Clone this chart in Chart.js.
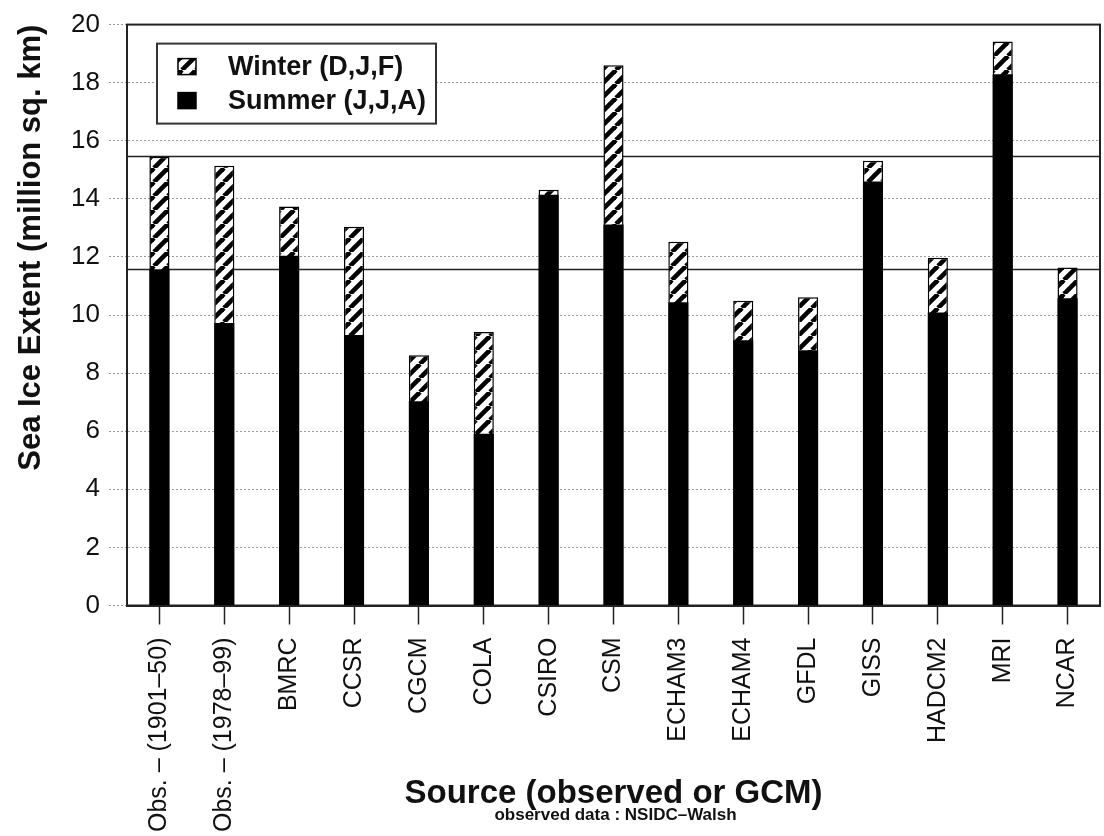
<!DOCTYPE html>
<html>
<head>
<meta charset="utf-8">
<script src="https://cdn.jsdelivr.net/npm/chart.js@4/dist/chart.umd.min.js"></script>
<style>
  html, body { margin: 0; padding: 0; background: #fff; }
  #wrap { width: 1104px; height: 836px; position: relative; }
</style>
</head>
<body>
<div id="wrap"><canvas id="chart"></canvas></div>
<script>
// categories along the x axis
const sources = [
  'Obs. \u2013 (1901\u201350)', 'Obs. \u2013 (1978\u201399)', 'BMRC', 'CCSR', 'CGCM', 'COLA',
  'CSIRO', 'CSM', 'ECHAM3', 'ECHAM4', 'GFDL', 'GISS', 'HADCM2', 'MRI', 'NCAR'
];
// sea ice extent, million sq. km
const winterExtent = [15.45, 15.14, 13.74, 13.04, 8.62, 9.42, 14.31, 18.6, 12.52, 10.49, 10.61, 15.31, 11.97, 19.42, 11.64];
const summerExtent = [11.58, 9.73, 12.04, 9.31, 7.03, 5.91, 14.14, 13.12, 10.44, 9.13, 8.79, 14.6, 10.09, 18.29, 10.58];
// observed 1901-50 levels drawn across the plot
const observedRefLines = [15.47, 11.57];
const sourceNote = 'observed data : NSIDC\u2013Walsh';

const FONT = '"Liberation Sans", Arial, Helvetica, sans-serif';

// diagonal "/" hatch used for the winter bars
function makeHatch() {
  const s = 14;
  const c = document.createElement('canvas');
  c.width = s; c.height = s;
  const g = c.getContext('2d');
  g.fillStyle = '#fff';
  g.fillRect(0, 0, s, s);
  g.strokeStyle = '#000';
  g.lineWidth = 4.6;
  for (let k = -1; k <= 1; k++) {
    g.beginPath();
    g.moveTo(k * s, s);
    g.lineTo(k * s + s, 0);
    g.stroke();
  }
  return g.createPattern(c, 'repeat');
}
const hatch = makeHatch();

// reference lines + frame around the plot
const framePlugin = {
  id: 'frame',
  beforeDatasetsDraw(chart) {
    const { ctx, chartArea: a, scales: { y } } = chart;
    ctx.save();
    ctx.strokeStyle = '#222';
    ctx.lineWidth = 1.6;
    observedRefLines.forEach(v => {
      const py = Math.round(y.getPixelForValue(v)) + 0.5;
      ctx.beginPath();
      ctx.moveTo(a.left, py);
      ctx.lineTo(a.right, py);
      ctx.stroke();
    });
    ctx.lineWidth = 2;
    ctx.strokeRect(a.left, a.top, a.right - a.left, a.bottom - a.top);
    ctx.restore();
  }
};

// boxed legend inside the plot, upper left, plus the small source note
const legendBoxPlugin = {
  id: 'legendBox',
  afterDraw(chart) {
    const { ctx, chartArea: a } = chart;
    const x0 = a.left + 30, y0 = a.top + 19, w = 279, h = 80;
    ctx.save();
    ctx.fillStyle = '#fff';
    ctx.fillRect(x0, y0, w, h);
    ctx.strokeStyle = '#333';
    ctx.lineWidth = 2;
    ctx.strokeRect(x0, y0, w, h);
    ctx.font = 'bold 27px ' + FONT;
    ctx.textBaseline = 'middle';
    chart.data.datasets.forEach((ds, i) => {
      const cy = y0 + 23 + i * 34;
      ctx.fillStyle = ds.backgroundColor;
      ctx.fillRect(x0 + 21, cy - 8, 18, 16);
      ctx.lineWidth = 1.5;
      ctx.strokeStyle = '#000';
      ctx.strokeRect(x0 + 21, cy - 8, 18, 16);
      ctx.fillStyle = '#111';
      ctx.fillText(ds.label, x0 + 71, cy + 1);
    });

    ctx.font = 'bold 17px ' + FONT;
    ctx.textAlign = 'center';
    ctx.fillStyle = '#111';
    ctx.fillText(sourceNote, (a.left + a.right) / 2 + 2, 815);
    ctx.restore();
  }
};

new Chart(document.getElementById('chart'), {
  type: 'bar',
  data: {
    labels: sources,
    datasets: [
      {
        label: 'Winter (D,J,F)',
        data: winterExtent,
        backgroundColor: hatch,
        borderColor: '#000',
        borderWidth: 1.5,
        borderSkipped: false,
        grouped: false,
        order: 1
      },
      {
        label: 'Summer (J,J,A)',
        data: summerExtent,
        backgroundColor: '#000',
        borderColor: '#000',
        borderWidth: 0,
        grouped: false,
        order: 0
      }
    ]
  },
  options: {
    responsive: true,
    maintainAspectRatio: false,
    animation: false,
    layout: { padding: { top: 20, right: 4, bottom: 0, left: 0 } },
    datasets: { bar: { categoryPercentage: 1, barPercentage: 0.31 } },
    plugins: {
      legend: { display: false },
      tooltip: { enabled: false }
    },
    scales: {
      x: {
        afterFit: s => {
          s.height = 230.5;
          s.paddingLeft = 0;
          s.paddingRight = 0;
        },
        grid: {
          display: true, drawOnChartArea: false, drawTicks: true, offset: false,
          tickLength: 19, tickColor: '#222', tickWidth: 1.5
        },
        border: { display: true, color: '#222', width: 2 },
        ticks: {
          autoSkip: false, maxRotation: 90, minRotation: 90, padding: 13,
          color: '#111', font: { family: FONT, size: 25 }
        },
        title: {
          display: true,
          text: 'Source (observed or GCM)',
          color: '#111',
          font: { family: FONT, size: 33, weight: 'bold', lineHeight: 1 },
          padding: { top: 0, bottom: 26 }
        }
      },
      y: {
        min: 0, max: 20,
        afterFit: s => { s.width = 127; },
        grid: {
          color: '#9a9a9a', lineWidth: 1, tickLength: 18,
          tickColor: '#9a9a9a', tickBorderDash: [2, 2]
        },
        border: { display: true, color: '#222', width: 2, dash: [2, 2] },
        ticks: {
          stepSize: 1, padding: 9, color: '#111',
          font: { family: FONT, size: 26 },
          callback: v => (v % 2 === 0 ? v : '')
        },
        title: {
          display: true,
          align: 'end',
          text: 'Sea Ice Extent (million sq. km)',
          color: '#111',
          font: { family: FONT, size: 31, weight: 'bold', lineHeight: 1.2 },
          padding: { top: 13, bottom: 0 }
        }
      }
    }
  },
  plugins: [framePlugin, legendBoxPlugin]
});
</script>
</body>
</html>
